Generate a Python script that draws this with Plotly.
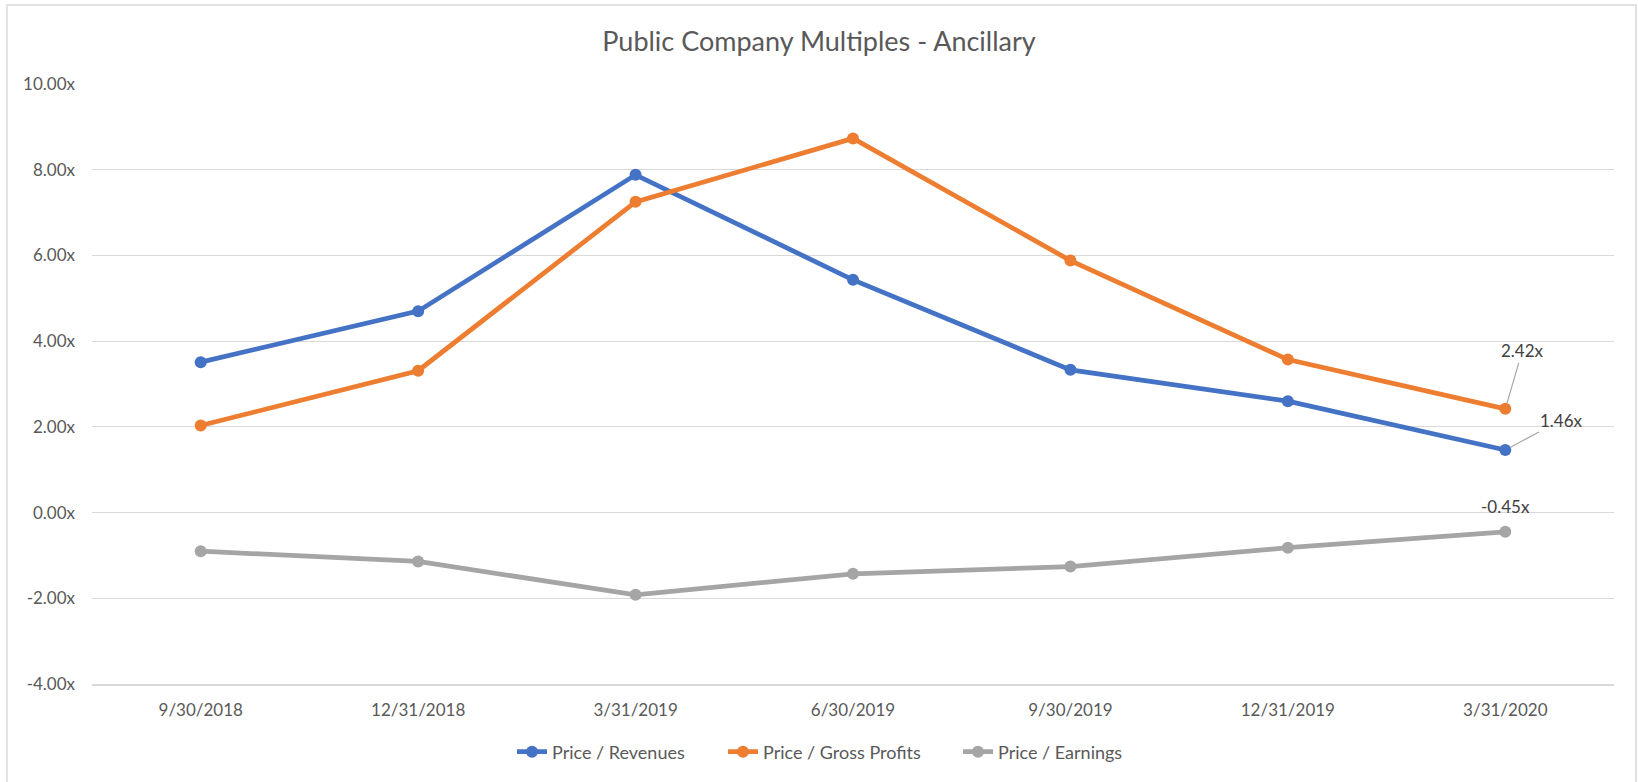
import plotly.graph_objects as go

# ---- data ----
categories = ["9/30/2018", "12/31/2018", "3/31/2019", "6/30/2019", "9/30/2019", "12/31/2019", "3/31/2020"]
price_revenues = [3.51, 4.70, 7.88, 5.43, 3.33, 2.60, 1.46]
price_gross_profits = [2.03, 3.31, 7.25, 8.73, 5.88, 3.57, 2.42]
price_earnings = [-0.90, -1.14, -1.92, -1.43, -1.26, -0.82, -0.45]
series_names = ["Price / Revenues", "Price / Gross Profits", "Price / Earnings"]
series_colors = ["#4472C4", "#ED7D31", "#A5A5A5"]
y_ticks = [-4, -2, 0, 2, 4, 6, 8, 10]
y_tick_labels = ["-4.00x", "-2.00x", "0.00x", "2.00x", "4.00x", "6.00x", "8.00x", "10.00x"]

FONT = "Lato"
TEXT = "#595959"
W, H = 1638, 782
ML, MR, MT, MB = 92, 24, 84, 98
pw = W - ML - MR
ph = H - MT - MB

legend_ids = ["legend", "legend2", "legend3"]
legend_left_px = [517, 728, 963]

fig = go.Figure()
for name, vals, col, lg in zip(series_names, [price_revenues, price_gross_profits, price_earnings],
                               series_colors, legend_ids):
    fig.add_trace(go.Scatter(
        x=categories, y=vals, name=name, mode="lines+markers",
        line=dict(color=col, width=4.75),
        marker=dict(color=col, size=12),
        legend=lg,
    ))

# data labels for the final points
last = categories[-1]
lab_font = dict(family=FONT, size=17, color="#404040")
fig.add_annotation(x=last, y=price_gross_profits[-1], text=f"{price_gross_profits[-1]:.2f}x",
                   showarrow=True, arrowhead=0, arrowwidth=1.2, arrowcolor="#A6A6A6",
                   ax=17, ay=-58, standoff=6, font=lab_font)
fig.add_annotation(x=last, y=price_revenues[-1], text=f"{price_revenues[-1]:.2f}x",
                   showarrow=True, arrowhead=0, arrowwidth=1.2, arrowcolor="#A6A6A6",
                   ax=56, ay=-30, standoff=6, font=lab_font)
fig.add_annotation(x=last, y=price_earnings[-1], text=f"{price_earnings[-1]:.2f}x",
                   showarrow=False, yshift=25, font=lab_font)

# chart-area border
fig.add_shape(type="rect", xref="paper", yref="paper",
              x0=(7 - ML) / pw, x1=(1636 - ML) / pw,
              y0=-(H + 5 - MT - ph) / ph, y1=1 + (MT - 5) / ph,
              line=dict(color="#D9D9D9", width=1.5), fillcolor="rgba(0,0,0,0)", layer="below")

legend_common = dict(orientation="h", xanchor="left", y=-(752 - MT - ph) / ph, yanchor="middle",
                     font=dict(family=FONT, size=18, color=TEXT), bgcolor="rgba(0,0,0,0)")
legends = {lg: dict(legend_common, x=(px - ML - 5) / pw) for lg, px in zip(legend_ids, legend_left_px)}

fig.update_layout(
    width=W, height=H,
    margin=dict(l=ML, r=MR, t=MT, b=MB),
    paper_bgcolor="white", plot_bgcolor="white",
    title=dict(text="Public Company Multiples - Ancillary", x=0.5, xanchor="center",
               y=1 - 42 / H, yanchor="middle", yref="container",
               font=dict(family=FONT, size=27, color=TEXT)),
    font=dict(family=FONT, color=TEXT),
    showlegend=True,
    xaxis=dict(type="category", range=[-0.5, len(categories) - 0.5], showgrid=False, showline=True,
               linecolor="#D9D9D9", linewidth=1.5, ticks="",
               tickfont=dict(family=FONT, size=17, color=TEXT), ticklabelstandoff=10,
               fixedrange=True),
    yaxis=dict(range=[-4, 10], tickvals=y_ticks, ticktext=y_tick_labels, showgrid=True,
               gridcolor="#D9D9D9", gridwidth=1.3, zeroline=False, showline=False, ticks="",
               tickfont=dict(family=FONT, size=17, color=TEXT), ticklabelstandoff=16,
               fixedrange=True),
    **legends,
)

fig.write_html("out.html", config={"displayModeBar": False},
               post_script="document.body.style.margin='0';document.body.style.overflow='hidden';")
